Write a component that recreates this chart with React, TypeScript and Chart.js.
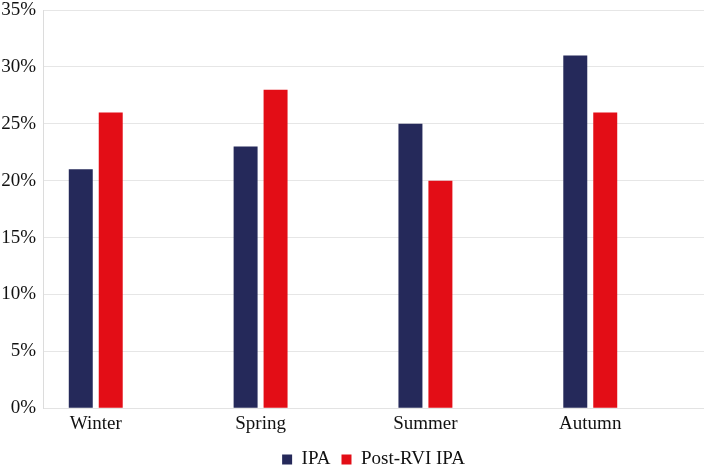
import React, { useEffect, useRef } from "react";
import { Chart, registerables } from "chart.js";

Chart.register(...registerables);

const categories = ["Winter", "Spring", "Summer", "Autumn"];
const ipaValues = [21, 23, 25, 31];
const postRviValues = [26, 28, 20, 26];
const yTicks = [0, 5, 10, 15, 20, 25, 30, 35];

const FONT = "'Liberation Serif', 'DejaVu Serif', serif";

export default function App() {
  const ref = useRef<HTMLCanvasElement | null>(null);

  useEffect(() => {
    document.body.style.margin = "0";
    const canvas = ref.current;
    if (!canvas) return;

    const centerLegend = {
      id: "centerLegend",
      afterLayout(chart: any) {
        const lg = chart.legend;
        if (lg && chart.chartArea) {
          lg.left = chart.chartArea.left;
          lg.right = chart.chartArea.right;
          lg.width = lg.right - lg.left;
        }
      },
    };

    const chart = new Chart(canvas, {
      type: "bar",
      data: {
        datasets: [
          {
            label: "IPA",
            data: categories.map((_, i) => ({ x: i, y: ipaValues[i] })),
            backgroundColor: "#25295a",
            categoryPercentage: 0.3636,
            barPercentage: 0.8,
          },
          {
            label: "Post-RVI IPA",
            data: categories.map((_, i) => ({ x: i, y: postRviValues[i] })),
            backgroundColor: "#e30d16",
            categoryPercentage: 0.3636,
            barPercentage: 0.8,
          },
        ],
      },
      options: {
        responsive: false,
        animation: false,
        layout: { padding: { top: 0, right: 0, left: 0, bottom: -13 } },
        plugins: {
          tooltip: { enabled: false },
          legend: {
            position: "bottom",
            labels: {
              boxWidth: 10,
              boxHeight: 10,
              padding: 11,
              color: "#111",
              font: { family: FONT, size: 19 },
            },
          },
        },
        scales: {
          x: {
            type: "linear",
            offset: false,
            min: -0.32,
            max: 3.69,
            bounds: "data",
            afterBuildTicks(scale: any) {
              scale.ticks = categories.map((_, i) => ({ value: i }));
            },
            ticks: {
              autoSkip: false,
              maxRotation: 0,
              padding: 4,
              color: "#111",
              font: { family: FONT, size: 19 },
              callback: (v: any) => categories[Number(v)] ?? "",
            },
            grid: { display: false, drawTicks: false, offset: false },
            border: { display: true, color: "#e3e3e3" },
          },
          y: {
            min: 0,
            max: 35,
            afterBuildTicks(scale: any) {
              scale.ticks = yTicks.map((v) => ({ value: v }));
            },
            afterFit(scale: any) {
              scale.width = 43;
              scale.paddingTop = 10;
              scale.paddingBottom = 0;
            },
            ticks: {
              padding: 7,
              color: "#111",
              font: { family: FONT, size: 19 },
              callback: (v: any) => `${v}%`,
            },
            grid: { color: "#e6e6e6", drawTicks: false },
            border: { display: true, color: "#dcdcdc" },
          },
        },
      },
      plugins: [centerLegend],
    } as any);

    return () => chart.destroy();
  }, []);

  return (
    <div style={{ width: 704, height: 466, background: "#fff" }}>
      <canvas ref={ref} width={704} height={466} />
    </div>
  );
}
